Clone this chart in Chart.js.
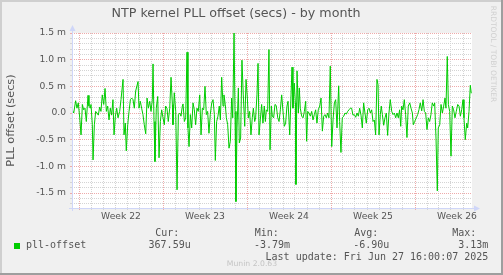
<!DOCTYPE html>
<html>
<head>
<meta charset="utf-8">
<title>NTP kernel PLL offset (secs) - by month</title>
<script src="https://cdn.jsdelivr.net/npm/chart.js@4/dist/chart.umd.min.js"></script>
<style>
  html, body { margin: 0; padding: 0; background: #f0f0f0; }
  #wrap { position: relative; width: 503px; height: 275px; }
</style>
</head>
<body>
<div id="wrap"><canvas id="chart" width="503" height="275"></canvas></div>
<script>
// offset samples, [day since Mon of week 22, offset in ms]
const week22 = [
  [-0.56,0.06],[-0.44,0.00],[-0.28,0.23],[-0.17,0.09],[-0.06,0.19],[0.06,-0.09],[0.17,-0.41],[0.28,0.16],
  [0.39,0.06],[0.50,0.09],[0.61,-0.16],[0.75,0.33],[0.83,0.13],[0.94,0.09],[1.00,0.16],[1.11,-0.22],
  [1.17,-0.88],[1.28,-0.22],[1.39,0.03],[1.50,0.00],[1.61,-0.04],[1.72,0.11],[1.83,0.03],[1.94,0.34],
  [2.06,0.16],[2.17,0.46],[2.28,0.03],[2.39,0.13],[2.50,-0.13],[2.61,0.09],[2.72,-0.04],[2.83,0.25],
  [2.92,-0.41],[3.03,-0.06],[3.14,0.09],[3.25,-0.09],[3.39,0.03],[3.50,0.25],[3.67,0.63],[3.75,-0.41],
  [3.86,-0.19],[3.94,-0.71],[4.06,-0.22],[4.17,0.03],[4.28,0.25],[4.39,0.28],[4.50,0.25],[4.61,0.09],
  [4.72,0.41],[4.92,0.59],[5.00,0.09],[5.11,0.22],[5.22,0.09],[5.33,-0.03],[5.44,-0.22],[5.56,-0.39],
  [5.67,0.28],[5.78,0.09],[5.89,0.22],[6.00,0.03],[6.11,0.25],[6.17,0.92],[6.25,-0.16],[6.33,-0.91],
  [6.44,0.09],[6.56,0.31],[6.67,-0.84],[6.78,-0.16],[6.89,0.06]
];
const week23 = [
  [7.00,-0.09],[7.11,-0.22],[7.22,0.13],[7.33,0.09],[7.44,-0.16],[7.56,0.09],[7.67,0.67],[7.78,0.16],
  [7.83,-0.22],[7.94,0.38],[8.06,0.03],[8.17,-1.44],[8.28,-0.03],[8.39,0.00],[8.50,-0.06],[8.61,0.13],
  [8.67,0.17],[8.78,-0.16],[8.89,-0.09],[9.00,1.14],[9.08,-0.28],[9.17,-0.63],[9.28,-0.03],[9.39,-0.28],
  [9.50,0.19],[9.61,0.06],[9.72,-0.22],[9.83,0.09],[9.94,0.03],[10.06,0.34],[10.17,-0.41],[10.28,0.09],
  [10.39,0.06],[10.50,0.50],[10.61,-0.03],[10.72,0.03],[10.83,-0.38],[10.94,-0.03],[11.06,0.19],[11.17,0.25],
  [11.28,-0.03],[11.36,-0.89],[11.47,-0.16],[11.58,-0.06],[11.69,0.13],[11.78,-0.13],[11.89,0.67],[12.00,0.13],
  [12.08,0.34],[12.19,0.16],[12.28,-0.09],[12.39,-0.22],[12.50,-0.66],[12.61,-0.53],[12.72,0.28],[12.81,-0.09],
  [12.92,1.50],[13.00,0.03],[13.08,-1.66],[13.17,-0.28],[13.28,0.47],[13.36,-0.56],[13.47,-0.47],[13.58,0.99],
  [13.69,0.34],[13.81,-0.25],[13.92,0.63]
];
const week24 = [
  [14.03,0.28],[14.11,-0.09],[14.22,0.03],[14.33,-0.41],[14.44,-0.09],[14.53,0.09],[14.64,-0.16],[14.72,-0.09],
  [14.83,0.34],[14.92,0.93],[15.00,-0.41],[15.11,-0.13],[15.22,0.16],[15.33,-0.19],[15.44,0.13],[15.53,-0.16],
  [15.61,0.06],[15.72,0.03],[15.83,1.19],[15.92,-0.69],[16.03,0.13],[16.11,-0.06],[16.22,-0.09],[16.33,0.16],
  [16.44,0.14],[16.56,-0.09],[16.67,-0.16],[16.78,0.06],[16.89,0.34],[17.00,0.03],[17.11,-0.25],[17.22,-0.19],
  [17.33,0.13],[17.42,0.22],[17.56,-0.41],[17.67,0.34],[17.75,0.86],[17.83,0.09],[17.94,0.56],[18.03,0.19],
  [18.08,-1.34],[18.17,0.79],[18.28,0.00],[18.36,0.47],[18.44,0.09],[18.56,-0.06],[18.67,-0.09],[18.78,0.03],
  [18.89,0.22],[18.97,-0.53],[19.06,0.03],[19.17,0.00],[19.28,-0.06],[19.39,0.03],[19.50,-0.13],[19.61,-0.03],
  [19.72,0.06],[19.83,-0.19],[19.94,0.06],[20.06,0.13],[20.17,0.28],[20.28,-0.34],[20.39,-0.06],[20.50,-0.03],
  [20.61,-0.09],[20.72,0.00],[20.83,-0.09],[20.94,0.88]
];
const week25 = [
  [21.06,-0.63],[21.17,-0.13],[21.28,0.19],[21.39,0.25],[21.50,-0.28],[21.64,0.51],[21.72,-0.16],[21.83,-0.74],
  [21.94,-0.09],[22.06,-0.06],[22.17,0.00],[22.28,-0.02],[22.39,0.03],[22.50,0.06],[22.61,0.09],[22.72,0.09],
  [22.83,-0.04],[22.94,-0.03],[23.06,-0.08],[23.17,0.00],[23.28,-0.06],[23.39,0.09],[23.50,-0.04],[23.61,-0.28],
  [23.72,0.19],[23.83,0.00],[23.94,-0.19],[24.06,0.06],[24.17,0.09],[24.28,0.00],[24.39,0.06],[24.50,-0.16],
  [24.61,-0.13],[24.72,-0.41],[24.83,0.63],[24.92,0.53],[25.00,-0.41],[25.11,-0.03],[25.19,0.13],[25.28,-0.03],
  [25.39,-0.23],[25.50,-0.09],[25.61,0.00],[25.72,-0.42],[25.83,0.00],[25.94,0.25],[26.06,0.03],[26.17,-0.03],
  [26.28,0.00],[26.39,-0.09],[26.50,0.00],[26.61,-0.09],[26.72,0.06],[26.81,-0.25],[26.89,0.13],[27.00,0.06],
  [27.11,0.25],[27.22,-0.03],[27.33,-0.46],[27.44,0.13],[27.56,0.19],[27.67,0.09],[27.78,0.00],[27.86,-0.22],
  [27.97,-0.16]
];
const week26 = [
  [28.11,-0.09],[28.22,-0.03],[28.33,0.06],[28.44,0.19],[28.56,0.04],[28.67,0.25],[28.78,0.03],[28.89,0.00],
  [29.00,-0.31],[29.11,-0.09],[29.22,-0.16],[29.33,-0.03],[29.44,0.19],[29.56,0.13],[29.64,0.19],[29.75,-0.47],
  [29.86,-1.46],[29.94,-0.28],[30.06,-0.22],[30.17,0.16],[30.28,0.00],[30.39,0.13],[30.50,0.28],[30.58,0.09],
  [30.69,1.06],[30.78,0.16],[30.89,0.03],[31.00,-0.81],[31.11,0.13],[31.22,0.06],[31.33,-0.09],[31.44,0.03],
  [31.56,0.16],[31.67,0.13],[31.78,-0.06],[31.89,0.06],[32.00,0.25],[32.08,-0.09],[32.19,-0.50],[32.31,-0.19],
  [32.39,-0.28],[32.50,0.03],[32.61,0.52],[32.69,0.37]
];

const weekCenters = [3.5, 10.5, 17.5, 24.5, 31.5];
const weekLabels = ['Week 22', 'Week 23', 'Week 24', 'Week 25', 'Week 26'];
const yMajorValues = [-1.5, -1.0, -0.5, 0, 0.5, 1.0, 1.5];
const yMajorLabels = ['-1.5 m', '-1.0 m', '-0.5 m', '0.0', '0.5 m', '1.0 m', '1.5 m'];
const statHeads = ['Cur:', 'Min:', 'Avg:', 'Max:'];
const statValues = ['367.59u', '-3.79m', '-6.90u', '3.13m'];
const seriesName = 'pll-offset';
const lastUpdate = 'Last update: Fri Jun 27 16:00:07 2025';

const LINE = '#00cc00';
const TXT = '#555555';
const MINOR = '#d4d4d4';
const MAJOR = '#eeaaaa';
const AXIS = '#cfd6f8';

const points = [...week22, ...week23, ...week24, ...week25, ...week26].map(([x, y]) => ({ x, y }));

const muninDecor = {
  id: 'muninDecor',
  beforeDraw(chart) {
    const { ctx, chartArea: a, width, height } = chart;
    ctx.save();
    ctx.fillStyle = '#f0f0f0';
    ctx.fillRect(0, 0, width, height);
    ctx.fillStyle = '#cfcfcf';
    ctx.fillRect(0, 0, width, 2);
    ctx.fillRect(0, 0, 2, height);
    ctx.fillStyle = '#9e9e9e';
    ctx.fillRect(0, height - 2, width, 2);
    ctx.fillRect(width - 2, 0, 2, height);
    ctx.fillStyle = '#ffffff';
    ctx.fillRect(a.left, a.top, a.right - a.left, a.bottom - a.top);
    ctx.restore();
  },
  afterDraw(chart) {
    const { ctx, chartArea: a } = chart;
    ctx.save();
    // axes with arrows
    ctx.strokeStyle = AXIS;
    ctx.fillStyle = AXIS;
    ctx.lineWidth = 1;
    ctx.beginPath();
    ctx.moveTo(a.left + 0.5, a.bottom + 3);
    ctx.lineTo(a.left + 0.5, a.top - 3);
    ctx.moveTo(a.left - 3, a.bottom + 0.5);
    ctx.lineTo(a.right + 3, a.bottom + 0.5);
    ctx.stroke();
    ctx.beginPath();
    ctx.moveTo(a.left + 0.5, a.top - 8);
    ctx.lineTo(a.left - 2.5, a.top - 2);
    ctx.lineTo(a.left + 3.5, a.top - 2);
    ctx.fill();
    ctx.beginPath();
    ctx.moveTo(a.right + 8, a.bottom + 0.5);
    ctx.lineTo(a.right + 2, a.bottom - 2.5);
    ctx.lineTo(a.right + 2, a.bottom + 3.5);
    ctx.fill();

    // legend table
    ctx.font = '10px "DejaVu Sans Mono"';
    ctx.fillStyle = TXT;
    ctx.textBaseline = 'middle';
    const headX = [155.3, 254.7, 354.3, 452.3];
    const valRight = [190.7, 290, 389.3, 488.3];
    ctx.textAlign = 'left';
    statHeads.forEach((h, i) => ctx.fillText(h, headX[i], 233));
    ctx.fillText(seriesName, 26, 245.5);
    ctx.textAlign = 'right';
    statValues.forEach((v, i) => ctx.fillText(v, valRight[i], 245.5));
    ctx.fillText(lastUpdate, 488.3, 257.5);
    ctx.fillStyle = LINE;
    ctx.fillRect(14, 243, 6, 6);

    // watermarks
    ctx.fillStyle = '#c4c4c4';
    ctx.textAlign = 'center';
    ctx.font = '7.7px "DejaVu Sans"';
    ctx.fillText('Munin 2.0.63', 252, 264.5);
    ctx.translate(493, 54);
    ctx.rotate(Math.PI / 2);
    ctx.fillStyle = '#d0d0d0';
    ctx.font = '7.5px "DejaVu Sans"';
    ctx.fillText('RRDTOOL / TOBI OETIKER', 0, 0);
    ctx.restore();
  }
};

new Chart(document.getElementById('chart'), {
  type: 'line',
  data: {
    datasets: [{
      label: seriesName,
      data: points,
      borderColor: LINE,
      borderWidth: 1,
      pointRadius: 0,
      tension: 0,
      fill: false
    }]
  },
  options: {
    responsive: false,
    animation: false,
    events: [],
    layout: { padding: { left: 0, right: 31, top: 0, bottom: 0 } },
    plugins: {
      legend: { display: false },
      tooltip: { enabled: false },
      title: {
        display: true,
        text: 'NTP kernel PLL offset (secs) - by month',
        color: TXT,
        font: { family: 'DejaVu Sans', size: 12.7, weight: 'normal' },
        padding: { top: 5.7, bottom: 12.06 }
      }
    },
    scales: {
      x: {
        type: 'linear',
        position: 'bottom',
        min: -7 / 12,
        max: 393 / 12,
        afterFit: (s) => { s.height = 67; },
        afterBuildTicks: (s) => {
          const t = [];
          for (let i = 0; i <= 65; i++) t.push({ value: i / 2 });
          s.ticks = t;
        },
        grid: {
          color: (c) => {
            const v = c.tick ? c.tick.value : 0;
            if (!Number.isInteger(v)) return 'rgba(0,0,0,0)';
            return v % 7 === 0 ? MAJOR : MINOR;
          },
          tickLength: 2
        },
        border: { display: false, dash: [1, 1] },
        ticks: {
          autoSkip: false,
          maxRotation: 0,
          minRotation: 0,
          padding: 1,
          color: TXT,
          font: { family: 'DejaVu Sans', size: 9.2 },
          callback: (v) => {
            const i = weekCenters.indexOf(v);
            return i >= 0 ? weekLabels[i] : '';
          }
        }
      },
      y: {
        min: 1.5 - 175 / (160 / 3),
        max: 1.5,
        afterFit: (s) => { s.width = 72; },
        afterBuildTicks: (s) => {
          const t = [];
          for (let i = -17; i <= 15; i++) t.push({ value: i / 10 });
          s.ticks = t;
        },
        grid: {
          color: (c) => {
            const v = c.tick ? Math.round(c.tick.value * 10) : 0;
            return v % 5 === 0 ? MAJOR : MINOR;
          },
          tickLength: 2
        },
        border: { display: false, dash: [1, 1] },
        ticks: {
          autoSkip: false,
          padding: 4,
          color: TXT,
          font: { family: 'DejaVu Sans', size: 9.2 },
          callback: (v) => {
            const i = yMajorValues.indexOf(Math.round(v * 10) / 10);
            return i >= 0 ? yMajorLabels[i] : '';
          }
        },
        title: {
          display: true,
          text: 'PLL offset (secs)',
          color: TXT,
          font: { family: 'DejaVu Sans', size: 11.3 },
          padding: { top: 4, bottom: 0 }
        }
      }
    }
  },
  plugins: [muninDecor]
});
</script>
</body>
</html>
